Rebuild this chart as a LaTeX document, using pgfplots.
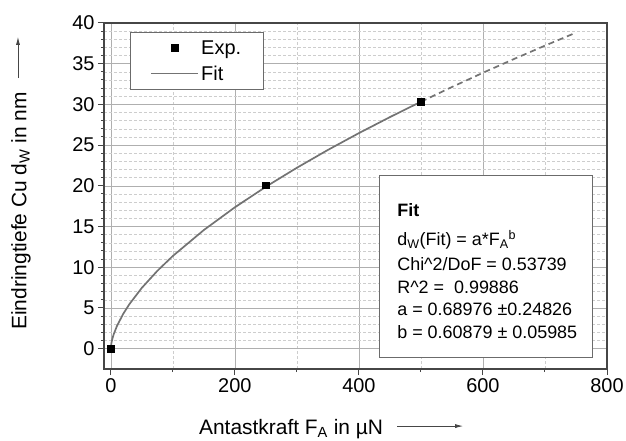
\documentclass[border=0pt]{standalone}
\usepackage{pgfplots}
\pgfplotsset{compat=1.18}
\usepackage{fontspec}
\setmainfont{Liberation Sans}
\usetikzlibrary{calc,arrows.meta}

\definecolor{fitgray}{RGB}{115,115,115}
\definecolor{framegray}{RGB}{70,70,70}
\definecolor{gridmajor}{RGB}{175,175,175}
\definecolor{gridminor}{RGB}{205,205,205}

\pgfplotsset{
  fitlegend/.style={legend image code/.code={\draw[##1] (0bp,0bp) -- (47bp,0bp);}},
  explegend/.style={legend image code/.code={\draw[mark repeat=2,mark phase=2,##1]
    plot coordinates {(0bp,0bp) (23.5bp,0bp) (47bp,0bp)};}},
}

\begin{document}
\begin{tikzpicture}
\begin{axis}[
  scale only axis,
  width=503bp, height=346bp,
  xmin=-11, xmax=800, ymin=-2.5, ymax=40,
  xtick={0,200,...,800}, ytick={0,5,...,40},
  minor x tick num=1, minor y tick num=4,
  tick align=outside, tick pos=left,
  major tick length=6bp, minor tick length=3bp,
  grid=both,
  major grid style={gridmajor, line width=0.6bp},
  minor grid style={gridminor, densely dashed, line width=0.5bp},
  axis line style={framegray, line width=1.4bp},
  every tick/.style={framegray, line width=1bp},
  ticklabel style={font=\fontsize{20}{24}\selectfont},
  /pgf/number format/assume math mode=true,
  xlabel={Antastkraft F\textsubscript{A} in µN},
  xlabel style={at={(axis description cs:0.372,-0.188)}, anchor=base,
    font=\fontsize{21}{25}\selectfont},
  ylabel={Eindringtiefe Cu d\textsubscript{W} in nm},
  ylabel style={at={(axis description cs:-0.165,0.457)}, anchor=center,
    font=\fontsize{21}{25}\selectfont},
  legend style={at={(axis description cs:0.052,0.974)}, anchor=north west,
    draw=framegray!80, line width=0.8bp, fill=white,
    font=\fontsize{20}{24}\selectfont, inner xsep=20bp, inner ysep=6bp,
    row sep=6bp},
  legend cell align=left,
  reverse legend,
]
% fit curve d = a*F^b, evaluated points
\addplot[fitgray, line width=1.7bp, fitlegend]
  coordinates {(0,0) (0.1,0.170) (0.5,0.452) (1,0.690) (2,1.052) (3,1.346)
  (5,1.838) (10,2.802) (20,4.273) (30,5.470) (50,7.465) (75,9.555)
  (100,11.384) (150,14.571) (200,17.360) (250,19.885) (300,22.220)
  (350,24.407) (400,26.474) (450,28.442) (500,30.326)};
\addlegendentry{Fit}
\addplot[fitgray, line width=1.7bp, dash pattern=on 6bp off 4bp, forget plot]
  coordinates {(500,30.326) (550,32.137) (600,33.885) (650,35.577)
  (700,37.219) (750,38.816)};
% measured points
\addplot[only marks, mark=square*, mark size=3.3bp, black, explegend]
  coordinates {(0,0) (250,20.1) (500,30.3)};
\addlegendentry{Exp.}

\node[draw=framegray!80, line width=0.8bp, fill=white, anchor=north west,
  minimum width=213bp, minimum height=182bp, inner sep=0pt]
  (fitbox) at (axis description cs:0.547,0.561) {};
\node[anchor=north west, inner sep=0pt, align=left,
  font=\fontsize{18}{22.5}\selectfont]
  at ([shift={(18bp,-28bp)}]fitbox.north west)
  {\textbf{Fit}\\[7bp]
   d\textsubscript{W}(Fit) = a*F\textsubscript{A}\textsuperscript{b}\\[3bp]
   Chi\textasciicircum 2/DoF = 0.53739\\
   R\textasciicircum 2 = \ 0.99886\\
   a = 0.68976 ±0.24826\\
   b = 0.60879 ± 0.05985};

\coordinate (xa1) at (axis description cs:0.583,-0.165);
\coordinate (xa2) at (axis description cs:0.714,-0.165);
\coordinate (ya1) at (axis description cs:-0.171,0.841);
\coordinate (ya2) at (axis description cs:-0.171,0.960);
\coordinate (SW) at (rel axis cs:0,0);
\coordinate (NE) at (rel axis cs:1,1);
\end{axis}
\draw[framegray, line width=0.8bp, -{Latex[length=8bp,width=4bp]}] (xa1) -- (xa2);
\draw[framegray, line width=0.8bp, -{Latex[length=8bp,width=4bp]}] (ya1) -- (ya2);
\pgfresetboundingbox
\path ($(SW)+(-104bp,-72bp)$) rectangle ($(NE)+(19bp,23bp)$);
\end{tikzpicture}
\end{document}
